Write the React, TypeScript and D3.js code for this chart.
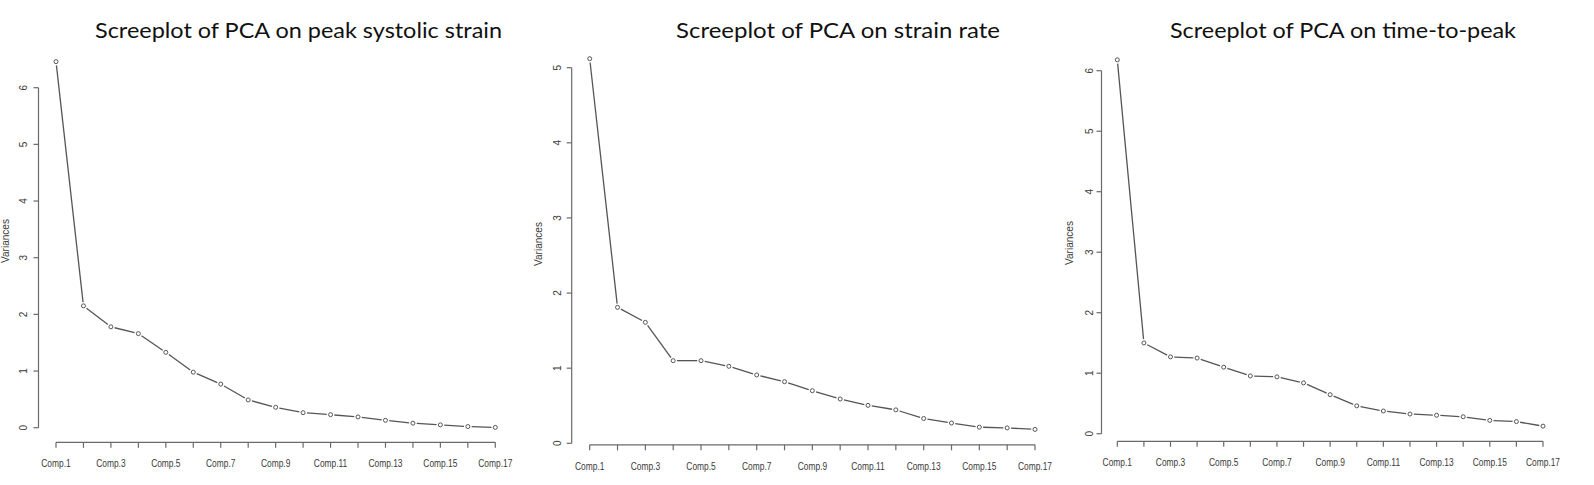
import React from "react";
import * as d3 from "d3";

const components = [
  "Comp.1", "Comp.2", "Comp.3", "Comp.4", "Comp.5", "Comp.6", "Comp.7", "Comp.8", "Comp.9",
  "Comp.10", "Comp.11", "Comp.12", "Comp.13", "Comp.14", "Comp.15", "Comp.16", "Comp.17",
];
const labeledComponents = ["Comp.1", "Comp.3", "Comp.5", "Comp.7", "Comp.9", "Comp.11", "Comp.13", "Comp.15", "Comp.17"];

const peakStrainVariances = [6.46, 2.15, 1.78, 1.66, 1.33, 0.98, 0.77, 0.49, 0.36, 0.265, 0.23, 0.19, 0.13, 0.08, 0.05, 0.02, 0.005];
const strainRateVariances = [5.12, 1.81, 1.61, 1.1, 1.1, 1.025, 0.91, 0.82, 0.7, 0.59, 0.505, 0.445, 0.33, 0.27, 0.215, 0.205, 0.185];
const timeToPeakVariances = [6.18, 1.5, 1.27, 1.25, 1.1, 0.955, 0.94, 0.84, 0.645, 0.46, 0.375, 0.325, 0.305, 0.28, 0.22, 0.2, 0.125];

const ticksSix = [0, 1, 2, 3, 4, 5, 6];
const ticksFive = [0, 1, 2, 3, 4, 5];

const titles = [
  "Screeplot of PCA on peak systolic strain",
  "Screeplot of PCA on strain rate",
  "Screeplot of PCA on time-to-peak",
];

const panels = [
  {
    values: peakStrainVariances, ticks: ticksSix, title: titles[0],
    titleX: 95, titleLen: 407,
    xRange: [56, 495.3], yTop: 87.7, yZero: 427.7, axisX: 38.5, xAxisY: 442.3,
    ylabX: 5, ylabY: 241, tickLabX: 23.5,
  },
  {
    values: strainRateVariances, ticks: ticksFive, title: titles[1],
    titleX: 676, titleLen: 324,
    xRange: [589.7, 1035], yTop: 67.7, yZero: 443.3, axisX: 571.7, xAxisY: 444.8,
    ylabX: 538.5, ylabY: 244, tickLabX: 557.5,
  },
  {
    values: timeToPeakVariances, ticks: ticksSix, title: titles[2],
    titleX: 1170, titleLen: 346,
    xRange: [1117.3, 1543], yTop: 70.7, yZero: 433.7, axisX: 1101.5, xAxisY: 441.3,
    ylabX: 1069.5, ylabY: 243, tickLabX: 1089.5,
  },
];

const AXIS = "#6a6a6a";
const LINE = "#555";
const TEXT = "#3a3a3a";
const SMALL_FONT = "'Liberation Sans', Arial, sans-serif";

function Panel({ p }: { p: (typeof panels)[number] }) {
  const maxTick = p.ticks[p.ticks.length - 1];
  const y = d3.scaleLinear().domain([0, maxTick]).range([p.yZero, p.yTop]);
  const x = d3.scalePoint<string>().domain(components).range(p.xRange as [number, number]);
  const pts = p.values.map((v, i) => [x(components[i]) as number, y(v)]);
  const gap = 3.8;
  const segs: string[] = [];
  for (let i = 0; i < pts.length - 1; i++) {
    const [x0, y0] = pts[i];
    const [x1, y1] = pts[i + 1];
    const L = Math.hypot(x1 - x0, y1 - y0);
    if (L <= 2 * gap) continue;
    const ux = (x1 - x0) / L, uy = (y1 - y0) / L;
    segs.push(
      d3.line()([
        [x0 + ux * gap, y0 + uy * gap],
        [x1 - ux * gap, y1 - uy * gap],
      ]) as string
    );
  }
  const xFirst = x(components[0]) as number;
  const xLast = x(components[components.length - 1]) as number;
  return (
    <g>
      <text
        x={p.titleX}
        y={38}
        fontFamily="Lato, 'Open Sans', sans-serif"
        fontSize={22}
        fill="#111"
        textLength={p.titleLen}
        lengthAdjust="spacingAndGlyphs"
      >
        {p.title}
      </text>
      {/* y axis */}
      <line x1={p.axisX} x2={p.axisX} y1={y(0)} y2={y(maxTick)} stroke={AXIS} strokeWidth={1.2} />
      {p.ticks.map((t) => (
        <g key={t}>
          <line x1={p.axisX - 5} x2={p.axisX} y1={y(t)} y2={y(t)} stroke={AXIS} strokeWidth={1.2} />
          <text
            transform={`translate(${p.tickLabX},${y(t)}) rotate(-90)`}
            textAnchor="middle"
            dy="0.35em"
            fontFamily={SMALL_FONT}
            fontSize={10}
            fill={TEXT}
          >
            {t}
          </text>
        </g>
      ))}
      <text
        transform={`translate(${p.ylabX},${p.ylabY}) rotate(-90)`}
        textAnchor="middle"
        dy="0.35em"
        fontFamily={SMALL_FONT}
        fontSize={10}
        fill={TEXT}
        textLength={44}
        lengthAdjust="spacingAndGlyphs"
      >
        Variances
      </text>
      {/* x axis */}
      <line x1={xFirst} x2={xLast} y1={p.xAxisY} y2={p.xAxisY} stroke={AXIS} strokeWidth={1.2} />
      {components.map((c) => (
        <line key={c} x1={x(c)} x2={x(c)} y1={p.xAxisY} y2={p.xAxisY + 5.5} stroke={AXIS} strokeWidth={1.2} />
      ))}
      {labeledComponents.map((c) => (
        <text
          key={c}
          transform={`translate(${x(c)},${p.xAxisY + 25}) scale(0.8,1)`}
          textAnchor="middle"
          fontFamily={SMALL_FONT}
          fontSize={10.5}
          fill={TEXT}
        >
          {c}
        </text>
      ))}
      {/* series */}
      {segs.map((d, i) => (
        <path key={i} d={d} stroke={LINE} strokeWidth={1.3} fill="none" />
      ))}
      {pts.map(([px, py], i) => (
        <circle key={i} cx={px} cy={py} r={2} fill="none" stroke={LINE} strokeWidth={1} />
      ))}
    </g>
  );
}

export default function App() {
  return (
    <svg
      width={1594}
      height={485}
      style={{ position: "absolute", left: 0, top: 0, background: "#fff" }}
    >
      <rect x={0} y={0} width={1594} height={485} fill="#fff" />
      {panels.map((p, i) => (
        <Panel key={i} p={p} />
      ))}
    </svg>
  );
}
